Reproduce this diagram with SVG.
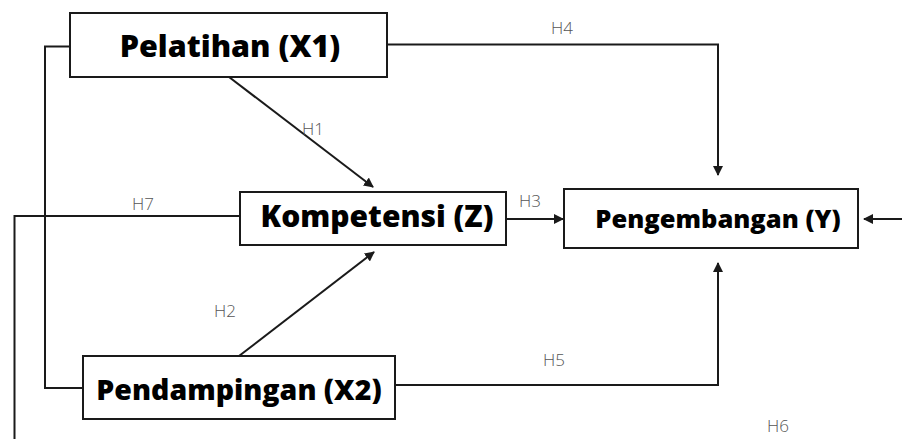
<svg xmlns="http://www.w3.org/2000/svg" width="902" height="439" viewBox="0 0 902 439">
  <style>
    .box { fill: #ffffff; stroke: #1a1a1a; stroke-width: 2; }
    .title { font-family: "Open Sans", "Noto Sans", sans-serif; font-weight: 800; fill: #000000; text-anchor: middle; }
    .lbl { font-family: "Open Sans", "Noto Sans", sans-serif; font-weight: 300; font-size: 17px; fill: #555555; }
    .wire { fill: none; stroke: #1a1a1a; stroke-width: 2; }
  </style>
  <defs>
    <marker id="arrow" viewBox="0 0 10 10" refX="9" refY="5" markerWidth="5" markerHeight="5" orient="auto" markerUnits="strokeWidth">
      <path d="M0,0 L10,5 L0,10 Z" fill="#1a1a1a"/>
    </marker>
  </defs>
  <rect width="902" height="439" fill="#ffffff"/>

  <g id="connectors">
    <!-- H1: Pelatihan -> Kompetensi -->
    <line class="wire" x1="229" y1="77" x2="373" y2="187" marker-end="url(#arrow)"/>
    <!-- H2: Pendampingan -> Kompetensi -->
    <line class="wire" x1="239" y1="356" x2="374" y2="252" marker-end="url(#arrow)"/>
    <!-- H3: Kompetensi -> Pengembangan -->
    <line class="wire" x1="506" y1="219" x2="563" y2="219" marker-end="url(#arrow)"/>
    <!-- H4: Pelatihan -> Pengembangan -->
    <polyline class="wire" points="387,44.5 718,44.5 718,175" marker-end="url(#arrow)"/>
    <!-- H5: Pendampingan -> Pengembangan -->
    <polyline class="wire" points="395,385 718,385 718,263" marker-end="url(#arrow)"/>
    <!-- H6: incoming from the right edge -->
    <line class="wire" x1="902" y1="219" x2="864" y2="219" marker-end="url(#arrow)"/>
    <!-- link between Pelatihan and Pendampingan on the left -->
    <polyline class="wire" points="70,46.5 45,46.5 45,388 83,388"/>
    <!-- H7: Kompetensi out to the left and down off the page -->
    <polyline class="wire" points="240,216 14.5,216 14.5,439"/>

    <g opacity="0.999">
      <text class="lbl" x="302" y="135">H1</text>
      <text class="lbl" x="214" y="317">H2</text>
      <text class="lbl" x="519" y="207">H3</text>
      <text class="lbl" x="551" y="34">H4</text>
      <text class="lbl" x="543" y="366">H5</text>
      <text class="lbl" x="767" y="432">H6</text>
      <text class="lbl" x="132" y="210">H7</text>
    </g>
  </g>

  <g id="pelatihan">
    <rect class="box" x="70" y="13" width="317" height="64"/>
    <text class="title" x="230" y="57" font-size="30.5">Pelatihan (X1)</text>
  </g>
  <g id="kompetensi">
    <rect class="box" x="240" y="192" width="266" height="53"/>
    <text class="title" x="377" y="227" font-size="30">Kompetensi (Z)</text>
  </g>
  <g id="pengembangan">
    <rect class="box" x="564" y="189" width="294" height="59"/>
    <text class="title" x="718" y="228" font-size="25.5">Pengembangan (Y)</text>
  </g>
  <g id="pendampingan">
    <rect class="box" x="83" y="356" width="312" height="63"/>
    <text class="title" x="239" y="400" font-size="28.5">Pendampingan (X2)</text>
  </g>
</svg>
